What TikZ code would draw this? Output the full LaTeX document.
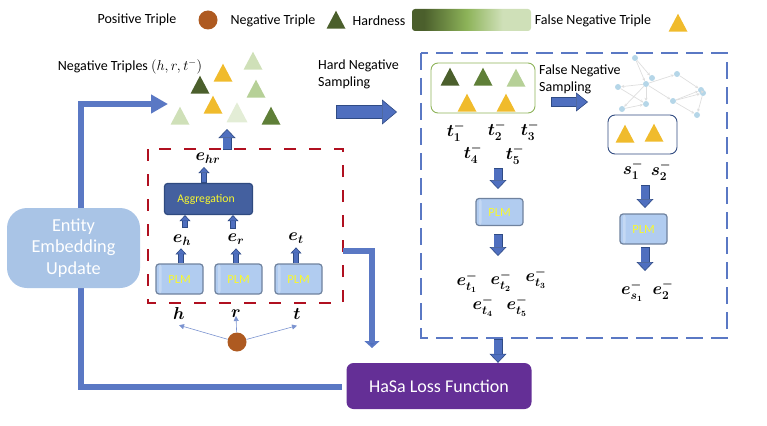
\documentclass[tikz,border=0pt]{standalone}
\usepackage{fontspec}
\setmainfont{Carlito}
\usetikzlibrary{arrows.meta,shapes.geometric}
\definecolor{arrowblue}{HTML}{5A78C4}
\definecolor{blockblue}{HTML}{4F6FBF}
\definecolor{blockdark}{HTML}{2F4B85}
\definecolor{brickred}{HTML}{B01020}
\definecolor{brownc}{HTML}{AE5A21}
\definecolor{gold}{HTML}{F0BB2C}
\definecolor{green1}{HTML}{4B5F2C}
\definecolor{green2}{HTML}{5F7F38}
\definecolor{green3}{HTML}{B6D097}
\definecolor{green4}{HTML}{CFE0B8}
\definecolor{green5}{HTML}{E3EDD6}
\definecolor{green6}{HTML}{8DB359}
\definecolor{plmfill}{HTML}{B1CCF0}
\definecolor{plmedge}{HTML}{6F829E}
\definecolor{aggfill}{HTML}{44609F}
\definecolor{aggedge}{HTML}{2F4A80}
\definecolor{lossfill}{HTML}{642F96}
\definecolor{entityfill}{HTML}{A9C4E6}
\definecolor{netnode}{HTML}{B5D6E8}
\definecolor{netedge}{HTML}{DEDEDE}
\definecolor{plmtext}{HTML}{F8F82E}
\pgfdeclarehorizontalshading{hardbar}{100bp}{color(0bp)=(green1); color(30bp)=(green1); color(48bp)=(green6); color(63bp)=(green4); color(100bp)=(green4)}
\tikzset{
  tri/.style={isosceles triangle,isosceles triangle apex angle=60,isosceles triangle stretches,
    shape border rotate=90,minimum width=19pt,minimum height=18pt,inner sep=0pt,fill=#1,yshift=-3pt},
  lbl/.style={inner sep=0pt,font=\fontsize{14}{17}\selectfont,align=left},
  mathlbl/.style={inner sep=0pt,font=\fontsize{16.5}{18}\selectfont\boldmath},
  plmbox/.style={draw=plmedge,line width=1.2pt,fill=plmfill,rounded corners=3pt,minimum width=47pt,minimum height=30pt,
    inner sep=0pt,text=plmtext,font=\fontsize{12.5}{14}\selectfont,
    path picture={\fill[white,opacity=.25] ([xshift=3pt]path picture bounding box.south west) rectangle ([xshift=5.5pt]path picture bounding box.north west);}},
  smallarrow/.style={line width=6pt,draw=blockdark,-{Triangle[length=6pt,width=11pt,fill=blockblue,line width=.6pt]},
    postaction={draw=blockblue,line width=4.8pt,-{},shorten >=6pt,shorten <=.6pt}},
  downarrow/.style={line width=9pt,draw=blockdark,-{Triangle[length=9pt,width=17pt,fill=blockblue,line width=.6pt]},
    postaction={draw=blockblue,line width=7.8pt,-{},shorten >=9pt,shorten <=.6pt}},
  thinarrow/.style={arrowblue!80,line width=.6pt,-{Triangle[length=5pt,width=5pt]}},
  netdot/.style={circle,fill=netnode,inner sep=0pt,minimum size=6pt},
  netline/.style={draw=netedge,line width=.7pt,-{Stealth[length=3pt,width=3pt]}},
}
\begin{document}
\begin{tikzpicture}[x=1pt,y=-1pt]
  \useasboundingbox (0,0) rectangle (767,425);
  % legend
  \node[lbl] (legpos) at (137,20) {Positive Triple};
  \node[circle,fill=brownc,minimum size=19pt,inner sep=0pt] (legc) at (208,20) {};
  \node[lbl] (legneg) at (273,21) {Negative Triple};
  \node[tri=green1] (legt) at (336,20) {};
  \node[lbl] (leghard) at (379,21) {Hardness};
  \node[shade,shading=hardbar,inner sep=0pt,minimum width=119pt,minimum height=22pt,rounded corners=3pt] (legbar) at (471.5,20) {};
  \node[lbl] (legfalse) at (593,21) {False Negative Triple};
  \node[tri=gold] (legy) at (678,23) {};
  % negative triples
  \node[lbl] (negtxt) at (130,67) {Negative Triples $(h,r,t^{-})$};
  \node[tri=green4] (n1) at (253,61) {};
  \node[tri=gold] (n2) at (223,73) {};
  \node[tri=green1] (n3) at (200,85) {};
  \node[tri=green3] (n4) at (256,89) {};
  \node[tri=gold] (n5) at (213,105) {};
  \node[tri=green4] (n6) at (180,116) {};
  \node[tri=green5,minimum width=21pt,minimum height=20pt] (n7) at (237,113) {};
  \node[tri=green2] (n8) at (271,116) {};
  \node[lbl,anchor=west] (hardtxt) at (318,74.5) {Hard Negative\\Sampling};
  % red box
  \draw[brickred,line width=1.7pt,dash pattern=on 12pt off 13pt] (148,149) rectangle (343,303);
  \coordinate (redtop) at (227,150);
  \coordinate (negend) at (227,129);
  \node[mathlbl] (ehr) at (208,158) {$e_{hr}$};
  \node[draw=aggedge,line width=1.2pt,fill=aggfill,rounded corners=3pt,minimum width=88pt,minimum height=31pt,inner sep=0pt,
    text=plmtext,font=\fontsize{11.7}{14}\selectfont] (aggr) at (208.5,199) {Aggregation\hspace*{5pt}};
  \node[plmbox] (plm1) at (179.5,279) {PLM};
  \node[plmbox] (plm2) at (238.5,279) {PLM};
  \node[plmbox] (plm3) at (298.5,279) {\raisebox{-3pt}{PLM}};
  \node[mathlbl] (eh) at (182,240) {$e_h$};
  \node[mathlbl] (er) at (236,239) {$e_r$};
  \node[mathlbl] (et) at (296,238) {$e_t$};
  \draw[smallarrow] (plm1.north -| eh) ++(-1,0) -- ++(0,-15);
  \draw[smallarrow] (plm2.north -| er) -- ++(0,-15);
  \draw[smallarrow] (plm3.north -| et) -- ++(0,-16);
  \draw[smallarrow] (185,228) -- (aggr.south -| 185,0);
  \draw[smallarrow] (233,229) -- (aggr.south -| 233,0);
  \draw[smallarrow] (aggr.north -| 204,0) -- (204,167);
  \draw[downarrow] (redtop) -- (negend);
  % positive triple
  \node[mathlbl] (h) at (179,313) {$h$};
  \node[mathlbl] (r) at (236,314) {$r$};
  \node[mathlbl] (t) at (297,314) {$t$};
  \node[circle,fill=brownc,minimum size=19pt,inner sep=0pt] (posc) at (237,342) {};
  \draw[thinarrow] (posc) -- ([yshift=-6]h.south);
  \draw[thinarrow] (posc) -- ([yshift=2]r.south);
  \draw[thinarrow] (posc) -- ([yshift=-6]t.south);
  % entity update loop
  \node[fill=lossfill,rounded corners=7pt,minimum width=185pt,minimum height=46pt,inner sep=0pt,text=white,
    font=\fontsize{18}{20}\selectfont] (loss) at (439,386) {HaSa Loss Function};
  \coordinate (loopa) at (342,387);
  \coordinate (loopb) at (81,387);
  \coordinate (loopc) at (81,104);
  \coordinate (looptip) at (168,104);
  \draw[arrowblue,line width=5.5pt,-{Triangle[length=17pt,width=18pt]}] (loopa) -- (loopb) -- (loopc) -- (looptip);
  \node[fill=entityfill,rounded corners=20pt,minimum width=133pt,minimum height=80pt,inner sep=0pt,text=white,align=center,
    font=\fontsize{18.3}{21.5}\selectfont] (entity) at (73.5,248) {Entity\\Embedding\\Update};
  % red box to loss
  \coordinate (reda) at (343,251);
  \coordinate (redb) at (372,251);
  \coordinate (redc) at (372,348);
  \draw[arrowblue,line width=6pt,-{Triangle[length=7pt,width=15pt,fill=blockblue]}] (reda) -- (redb) -- (redc);
  % hard arrow
  \coordinate (harda) at (336,112);
  \coordinate (hardb) at (397,112);
  \draw[line width=13pt,draw=blockdark,-{Triangle[length=15pt,width=25pt,fill=blockblue,line width=.6pt]},
    postaction={draw=blockblue,line width=11.8pt,-{},shorten >=15pt,shorten <=.6pt}] (harda) -- (hardb);
  % blue box
  \draw[arrowblue,line width=1.6pt,dash pattern=on 17pt off 8pt] (421,53) rectangle (727,338);
  \node[draw=green6,line width=.9pt,rounded corners=7pt,minimum width=104pt,minimum height=50pt,inner sep=0pt] (hardbox) at (483,88) {};
  \node[tri=green1] (s1) at (450,77) {};
  \node[tri=green2] (s2) at (483,77) {};
  \node[tri=green3] (s3) at (516,78) {};
  \node[tri=gold] (s4) at (467,103) {};
  \node[tri=gold] (s5) at (506,103) {};
  \node[mathlbl] (t1) at (456,132) {$t_1^-$};
  \node[mathlbl] (t2) at (497,131) {$t_2^-$};
  \node[mathlbl] (t3) at (530,131) {$t_3^-$};
  \node[mathlbl] (t4) at (473,154) {$t_4^-$};
  \node[mathlbl] (t5) at (515,155) {$t_5^-$};
  \node[plmbox,minimum height=27pt] (plm4) at (499.5,212) {\raisebox{-3pt}{PLM}};
  \coordinate (tdown) at (498,168);
  \draw[downarrow] (tdown) -- ++(0,21);
  \coordinate (plmdown) at (498,234);
  \draw[downarrow] (plmdown) -- ++(0,22);
  \node[mathlbl] (et1) at (467,282) {$e_{t_1}^-$};
  \node[mathlbl] (et2) at (501,281) {$e_{t_2}^-$};
  \node[mathlbl] (et3) at (536,278) {$e_{t_3}^-$};
  \node[mathlbl] (et4) at (483,306) {$e_{t_4}^-$};
  \node[mathlbl] (et5) at (517,306) {$e_{t_5}^-$};
  \draw[downarrow] (498,339) -- (loss.north -| 498,0);
  % false negative
  \node[lbl,anchor=west] (falsetxt) at (539,79.5) {False Negative\\Sampling};
  \coordinate (falsea) at (551,102);
  \coordinate (falseb) at (588,102);
  \draw[line width=10pt,draw=blockdark,-{Triangle[length=12pt,width=19pt,fill=blockblue,line width=.6pt]},
    postaction={draw=blockblue,line width=8.8pt,-{},shorten >=12pt,shorten <=.6pt}] (falsea) -- (falseb);
  \node[draw=aggedge,line width=.9pt,rounded corners=7pt,minimum width=69pt,minimum height=39pt,inner sep=0pt] (falsebox) at (642.5,134.5) {};
  \node[tri=gold] (f1) at (625,134) {};
  \node[tri=gold] (f2) at (654,133) {};
  \node[mathlbl] (sm1) at (633,170) {$s_1^-$};
  \node[mathlbl] (sm2) at (661,171) {$s_2^-$};
  \node[plmbox,minimum height=30pt] (plm5) at (643.5,229) {PLM};
  \coordinate (sdown) at (645,185);
  \draw[downarrow] (sdown) -- ++(0,23);
  \coordinate (plm5down) at (645,247);
  \draw[downarrow] (plm5down) -- ++(0,24);
  \node[mathlbl] (es1) at (632,291) {$e_{s_1}^-$};
  \node[mathlbl] (es2) at (663,290) {$e_2^-$};
  % network
  \foreach \name/\px/\py in {na/635/58,nb/652/78,nc/646/84,nd/677/74,ne/618/87,nf/622/109,ng/646/104,nh/673/101,ni/701/90,nj/703/93,nk/697/115}
    \node[netdot] (\name) at (\px,\py) {};
  \foreach \from/\to in {na/nb,na/nc,nc/nd,nc/ne,nc/nf,nc/ng,nc/nh,ne/ng,nf/ng,nd/ni,nh/ni,nh/nj,ni/nj,nh/nk,nj/nk}
    \draw[netline] (\from) -- (\to);
\end{tikzpicture}
\end{document}
